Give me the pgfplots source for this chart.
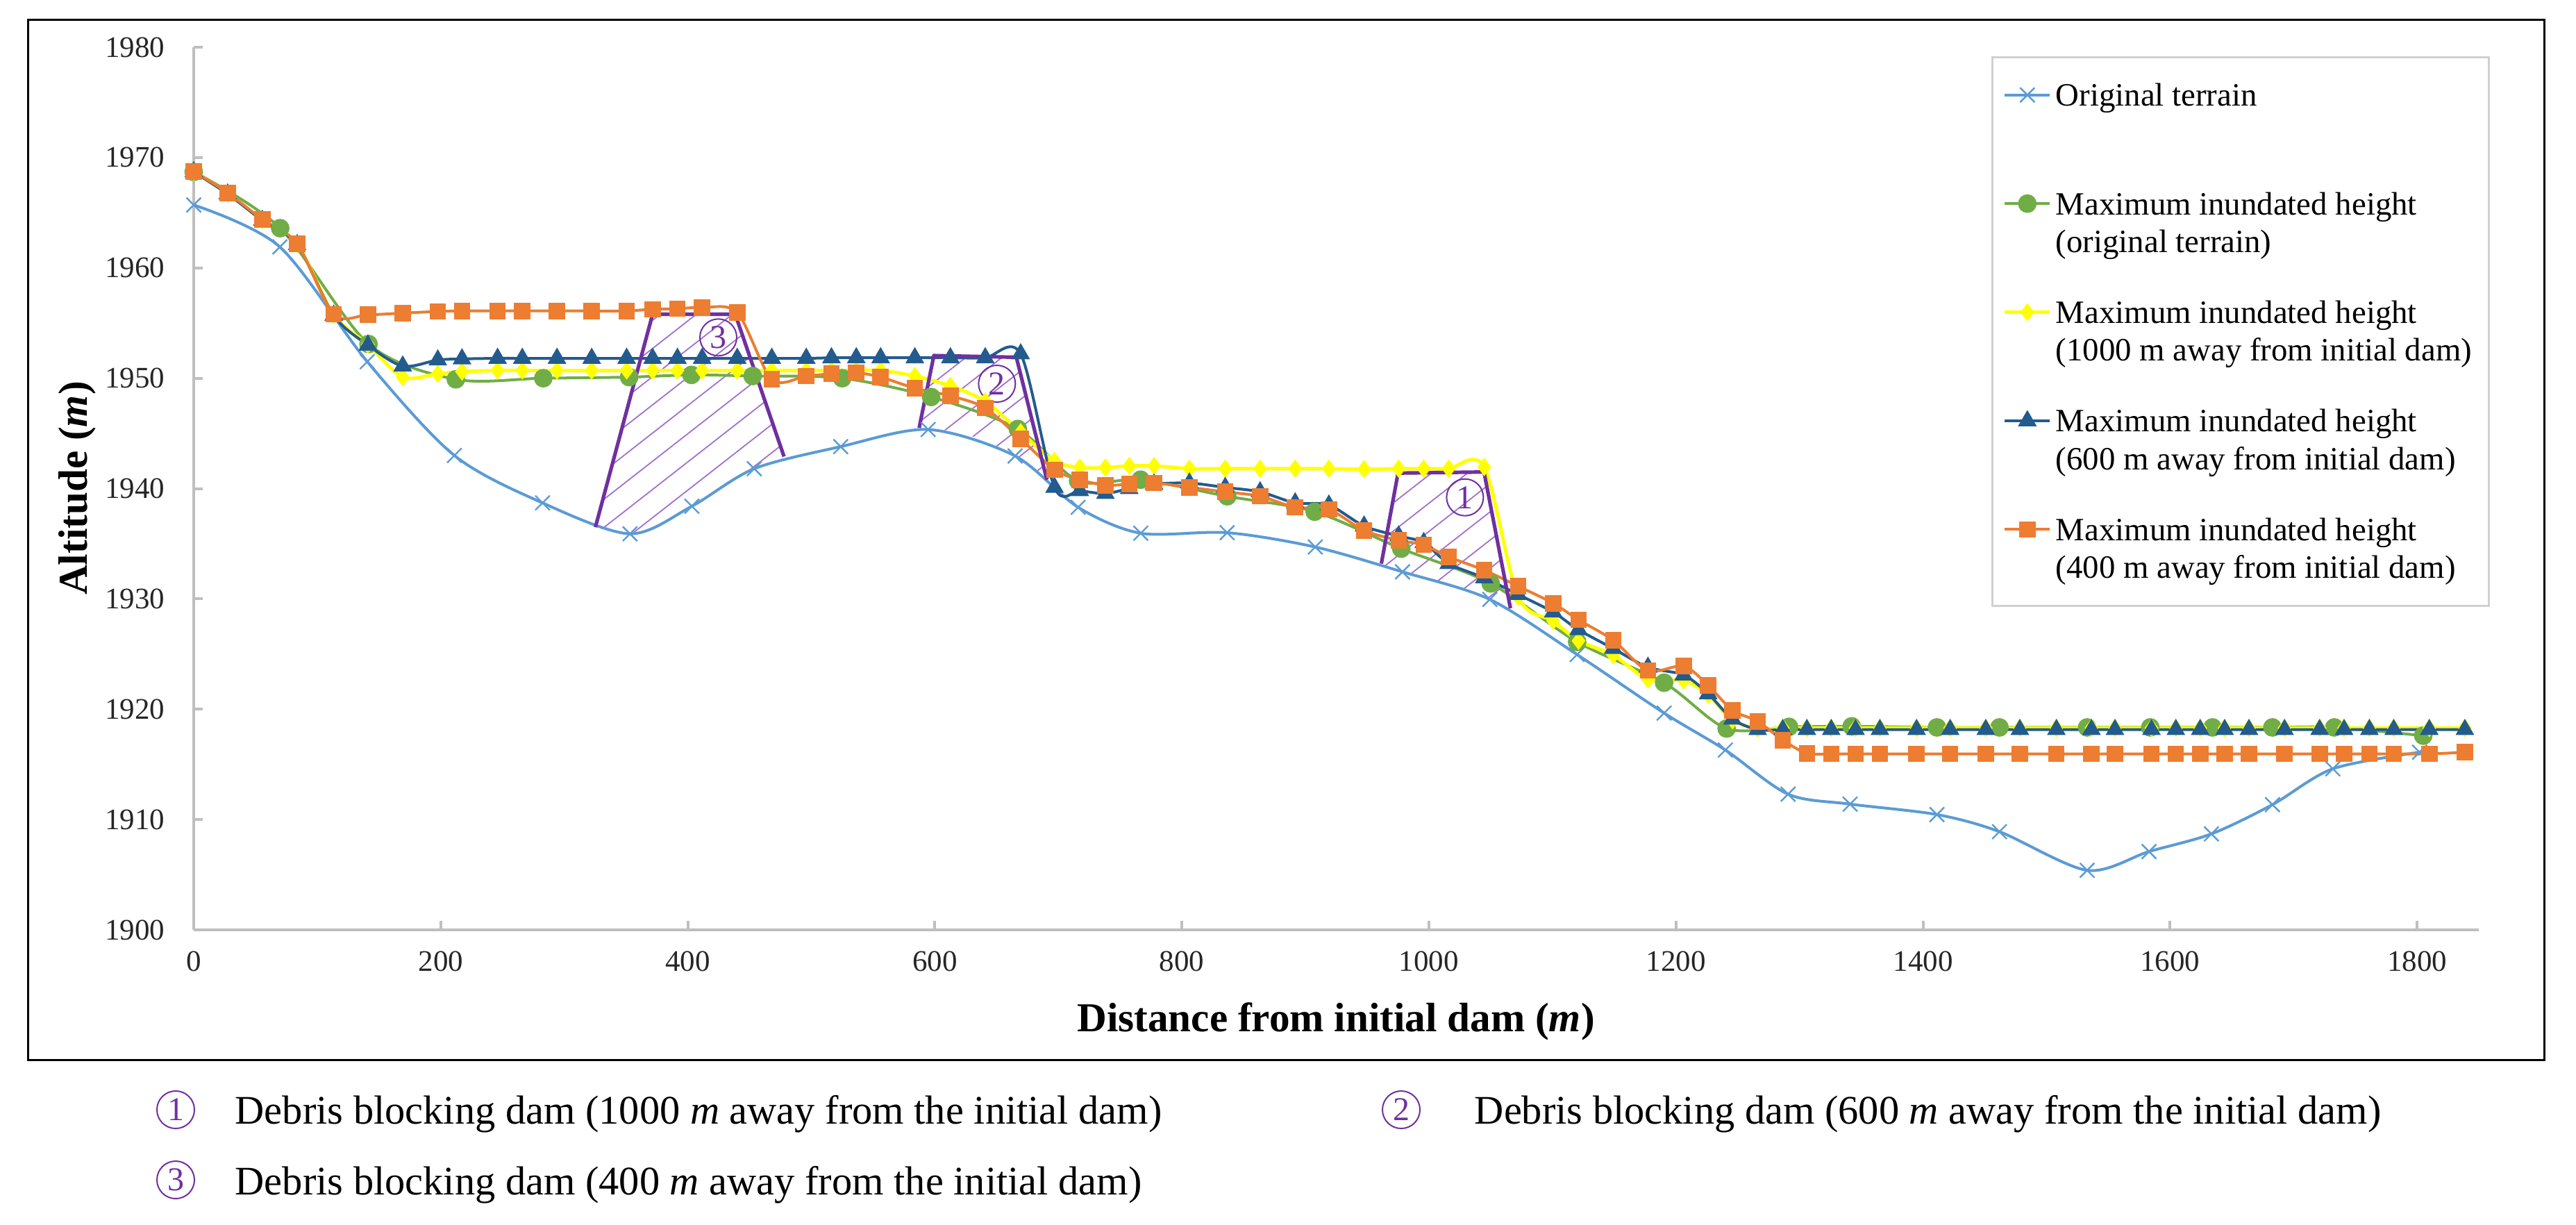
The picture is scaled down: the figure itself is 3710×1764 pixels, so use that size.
\documentclass[border=0pt]{standalone}
\usepackage{pgfplots}
\pgfplotsset{compat=1.18}
\usepackage{fontspec}
\setmainfont{Liberation Serif}
\usetikzlibrary{patterns.meta}

\definecolor{terrain}{HTML}{5B9BD5}
\definecolor{grn}{HTML}{70AD47}
\definecolor{ylw}{HTML}{FFFF00}
\definecolor{dblue}{HTML}{235B8E}
\definecolor{orng}{HTML}{ED7D31}
\definecolor{dampurple}{HTML}{7030A0}
\definecolor{hatchpurple}{HTML}{A070D0}
\definecolor{axisgray}{HTML}{BFBFBF}
\definecolor{legendgray}{HTML}{D0D0D0}

% two-line legend text, baseline on the first line
\newcommand\twoline[2]{\vtop{\hbox{#1}\hbox{#2}}}

\begin{document}
\begin{tikzpicture}
% 1 px of the reference = 0.25pt
\begin{scope}[x=0.25pt,y=-0.25pt]
\useasboundingbox (0,0) rectangle (3710,1764);
\draw[line width=0.75pt] (40,29) rectangle (3664,1526);
\draw[legendgray, line width=0.75pt] (2869,83) rectangle (3584,872);
\end{scope}

\begin{axis}[
  at={(69.75pt,-334.75pt)}, anchor=south west,
  scale only axis, width=822.75pt, height=317.75pt,
  xmin=0, xmax=1850, ymin=1900, ymax=1980,
  axis x line=bottom, axis y line=left,
  axis line style={-, draw=axisgray, line width=1pt},
  tick style={draw=axisgray, line width=1pt},
  tick align=inside, major tick length=3.3pt,
  xtick={0,200,...,1800}, ytick={1900,1910,...,1980},
  /pgf/number format/assume math mode=true,
  /pgf/number format/set thousands separator={},
  ticklabel style={font=\fontsize{10.75}{12}\selectfont, text=black!85},
  xticklabel style={yshift=-4.2pt},
  yticklabel style={xshift=-6.9pt},
  legend style={draw=none, fill=none, at={(rel axis cs:0.79155,0.95909)},
    anchor=north west, inner sep=0pt, row sep=0pt, column sep=1.5pt,
    font=\fontsize{11.7}{13.6}\selectfont, cells={anchor=base west},
    nodes={inner sep=0pt, anchor=base west, text height=8pt, text depth=31.1pt}},
  legend image code/.code={\draw[mark repeat=2,mark phase=2,#1] plot coordinates {(0pt,4pt) (8.125pt,4pt) (16.25pt,4pt)};},
  clip=false,
]

% hatched dam bodies
\addplot[draw=none, forget plot, pattern={Lines[angle=38,distance=8pt,line width=0.45pt]}, pattern color=hatchpurple]
  coordinates {(325.2,1936.5) (371.5,1955.8) (438.4,1955.8) (477.9,1942.9) (453.8,1941.8) (428,1940.1) (403.3,1938.4) (378,1936.4) (353.2,1935.9) (338,1936.1)} -- cycle;
\addplot[draw=none, forget plot, pattern={Lines[angle=38,distance=8pt,line width=0.45pt]}, pattern color=hatchpurple]
  coordinates {(587.3,1945.5) (599.2,1952.05) (666,1951.9) (690.7,1940.8) (680,1941.7) (665,1942.95) (640,1944.4) (615,1945.25) (594.6,1945.35)} -- cycle;
\addplot[draw=none, forget plot, pattern={Lines[angle=38,distance=8pt,line width=0.45pt]}, pattern color=hatchpurple]
  coordinates {(961.5,1933.2) (975,1941.4) (1044.6,1941.5) (1066,1929.15) (1049.3,1929.95) (1015,1931.3) (978.6,1932.45)} -- cycle;

% Original terrain
\addplot[smooth, color=terrain, line width=1pt, mark=x, mark size=3.7pt, mark options={line width=0.6pt}] coordinates {
(0,1965.7) (69.7,1961.9) (140.5,1951.5) (211,1943.0) (282.4,1938.7) (353.2,1935.9) (403.3,1938.4) (453.8,1941.8) (523.8,1943.8) (594.6,1945.35) (665,1942.95) (716,1938.3) (766.7,1935.95) (836.6,1936.0) (908,1934.7) (978.6,1932.45) (1049.3,1929.95) (1120,1924.95) (1190.4,1919.65) (1240,1916.3) (1290.8,1912.3) (1341,1911.4) (1411.3,1910.45) (1461.9,1908.9) (1532.9,1905.4) (1583,1907.1) (1633.5,1908.7) (1682.9,1911.35) (1731.8,1914.6) (1802,1916.1)};
\addlegendentry{Original terrain}

% Maximum inundated height, original terrain
\addplot[smooth, color=grn, line width=1pt, mark=*, mark size=3.1pt, mark options={line width=0.5pt, fill=grn}] coordinates {
(0,1968.7) (70,1963.6) (141.5,1953.1) (212.2,1949.9) (283,1950.0) (352.5,1950.1) (403,1950.3) (452.5,1950.2) (525,1950.0) (597,1948.3) (667.2,1945.4) (716,1940.7) (766.6,1940.8) (836.7,1939.3) (907.5,1937.9) (977.6,1934.55) (1050,1931.4) (1120,1926.1) (1190.4,1922.4) (1241,1918.25) (1291.5,1918.4) (1342.3,1918.45) (1411.3,1918.35) (1461.9,1918.35) (1532.9,1918.35) (1584,1918.35) (1634.4,1918.35) (1682.9,1918.35) (1733,1918.35) (1805,1917.6)};
\addlegendentry{\twoline{Maximum inundated height}{(original terrain)}}

% 1000 m away
\addplot[smooth, color=ylw, line width=1.25pt, mark=diamond*, mark size=2.9pt, mark options={line width=0.5pt, fill=ylw}] coordinates {
(0,1968.7) (27.5,1966.75) (55.5,1964.35) (83.7,1962.15) (113.3,1955.75) (141,1953.05) (169.2,1950.1) (197.6,1950.4) (217.2,1950.6) (246,1950.7) (266,1950.7) (294.1,1950.7) (322.2,1950.7) (350.5,1950.7) (371.5,1950.7) (391.6,1950.7) (411.6,1950.7) (440,1950.7) (468,1950.7) (495.9,1950.7) (516.3,1950.7) (536.4,1950.7) (556.1,1950.7) (583.8,1950.2) (612.6,1949.3) (640.8,1947.9) (669.5,1945.1) (696.9,1942.5) (717.4,1941.9) (738.1,1941.9) (757.4,1942.05) (777.5,1942.05) (806.1,1941.8) (835.1,1941.8) (863.3,1941.8) (891.7,1941.8) (919,1941.8) (947.5,1941.75) (975.5,1941.8) (995.8,1941.8) (1016,1941.8) (1044.8,1941.95) (1072.2,1930.2) (1100.6,1928.0) (1121.1,1926.2) (1149.2,1924.9) (1177.3,1922.7) (1206.2,1922.6) (1226.1,1921.3) (1245.8,1919.0) (1266.2,1918.25) (1286.5,1918.3) (1306,1918.3) (1325.7,1918.3) (1345.4,1918.3) (1365.1,1918.3) (1394.8,1918.3) (1422,1918.3) (1450.8,1918.3) (1478.4,1918.3) (1508,1918.3) (1536.4,1918.3) (1555.4,1918.3) (1585,1918.3) (1604.7,1918.3) (1624.4,1918.3) (1644.2,1918.3) (1663.9,1918.3) (1692.7,1918.3) (1721.1,1918.3) (1740.9,1918.3) (1761.4,1918.3) (1781.1,1918.3) (1809.9,1918.3) (1838.7,1918.3)};
\addlegendentry{\twoline{Maximum inundated height}{(1000 m away from initial dam)}}

% 600 m away
\addplot[smooth, color=dblue, line width=1pt, mark=triangle*, mark size=3.4pt, mark options={line width=0.5pt, fill=dblue}] coordinates {
(0,1968.7) (27.5,1966.7) (55.5,1964.3) (83.7,1962.1) (113.3,1955.7) (141,1953.0) (169.2,1951.1) (197.6,1951.65) (217.2,1951.75) (246,1951.8) (266,1951.8) (294.1,1951.8) (322.2,1951.8) (350.5,1951.8) (371.5,1951.8) (391.6,1951.8) (411.6,1951.8) (440,1951.8) (468,1951.8) (495.9,1951.8) (516.3,1951.85) (536.4,1951.85) (556.1,1951.85) (583.8,1951.85) (612.6,1951.85) (640.8,1951.85) (669.5,1952.2) (696.9,1940.1) (717.4,1939.8) (738.1,1939.55) (757.4,1940.0) (777.5,1940.4) (806.1,1940.5) (835.1,1940.1) (863.3,1939.7) (891.7,1938.7) (919,1938.5) (947.5,1936.6) (975.5,1935.7) (995.8,1935.1) (1016,1933.2) (1044.8,1931.9) (1072.2,1930.4) (1100.6,1928.8) (1121.1,1927.2) (1149.2,1925.5) (1177.3,1923.8) (1206.2,1923.1) (1226.1,1921.4) (1245.8,1919.1) (1266.2,1918.15) (1286.5,1918.15) (1306,1918.15) (1325.7,1918.15) (1345.4,1918.15) (1365.1,1918.15) (1394.8,1918.15) (1422,1918.15) (1450.8,1918.15) (1478.4,1918.15) (1508,1918.15) (1536.4,1918.15) (1555.4,1918.15) (1585,1918.15) (1604.7,1918.15) (1624.4,1918.15) (1644.2,1918.15) (1663.9,1918.15) (1692.7,1918.15) (1721.1,1918.15) (1740.9,1918.15) (1761.4,1918.15) (1781.1,1918.15) (1809.9,1918.15) (1838.7,1918.15)};
\addlegendentry{\twoline{Maximum inundated height}{(600 m away from initial dam)}}

% 400 m away
\addplot[smooth, color=orng, line width=1pt, mark=square*, mark size=2.7pt, mark options={line width=0.5pt, fill=orng}] coordinates {
(0,1968.75) (27.5,1966.8) (55.5,1964.4) (83.7,1962.2) (113.3,1955.8) (141,1955.75) (169.2,1955.9) (197.6,1956.05) (217.2,1956.1) (246,1956.1) (266,1956.1) (294.1,1956.1) (322.2,1956.1) (350.5,1956.1) (371.5,1956.25) (391.6,1956.3) (411.6,1956.4) (440,1955.95) (468,1949.9) (495.9,1950.2) (516.3,1950.4) (536.4,1950.5) (556.1,1950.1) (583.8,1949.1) (612.6,1948.4) (640.8,1947.3) (669.5,1944.5) (696.9,1941.7) (717.4,1940.8) (738.1,1940.3) (757.4,1940.4) (777.5,1940.5) (806.1,1940.1) (835.1,1939.7) (863.3,1939.3) (891.7,1938.3) (919,1938.1) (947.5,1936.2) (975.5,1935.3) (995.8,1934.9) (1016,1933.8) (1044.8,1932.6) (1072.2,1931.15) (1100.6,1929.6) (1121.1,1928.1) (1149.2,1926.25) (1177.3,1923.5) (1206.2,1923.9) (1226.1,1922.15) (1245.8,1919.9) (1266.2,1918.9) (1286.5,1917.2) (1306,1916.0) (1325.7,1915.95) (1345.4,1915.95) (1365.1,1915.95) (1394.8,1915.95) (1422,1915.95) (1450.8,1915.95) (1478.4,1915.95) (1508,1915.95) (1536.4,1915.95) (1555.4,1915.95) (1585,1915.95) (1604.7,1915.95) (1624.4,1915.95) (1644.2,1915.95) (1663.9,1915.95) (1692.7,1915.95) (1721.1,1915.95) (1740.9,1915.95) (1761.4,1915.95) (1781.1,1915.95) (1809.9,1915.95) (1838.7,1916.1)};
\addlegendentry{\twoline{Maximum inundated height}{(400 m away from initial dam)}}

% dam outlines
\addplot[forget plot, draw=dampurple, line width=1.3pt, line join=round] coordinates {(325.2,1936.5) (371.5,1955.8) (438.4,1955.8) (477.9,1942.9)};
\addplot[forget plot, draw=dampurple, line width=1.3pt, line join=round] coordinates {(587.3,1945.5) (599.2,1952.05) (666,1951.9) (690.7,1940.8)};
\addplot[forget plot, draw=dampurple, line width=1.3pt, line join=round] coordinates {(961.5,1933.2) (975,1941.4) (1044.6,1941.5) (1066,1929.15)};

\begin{scope}[every node/.style={circle, draw=dampurple, text=dampurple, line width=0.5pt, minimum size=13.25pt, inner sep=0pt, font=\fontsize{12}{12}\selectfont}]
\node at (axis cs:424.7,1953.7) {3};
\node at (axis cs:650.3,1949.5) {2};
\node at (axis cs:1029.2,1939.2) {1};
\end{scope}
\end{axis}

\begin{scope}[x=0.25pt,y=-0.25pt]
\node[anchor=base, inner sep=0pt, font=\fontsize{14.8}{16}\selectfont\bfseries] at (1924,1485) {Distance from initial dam (\textit{m})};
\node[rotate=90, anchor=base, inner sep=0pt, font=\fontsize{14.8}{16}\selectfont\bfseries] at (125,703) {Altitude (\textit{m})};
\begin{scope}[every node/.style={circle, draw=dampurple, text=dampurple, line width=0.5pt, minimum size=13.5pt, inner sep=0pt, font=\fontsize{12}{12}\selectfont}]
\node at (253,1598) {1};
\node at (2018,1598) {2};
\node at (253,1699) {3};
\end{scope}
\begin{scope}[every node/.style={anchor=base west, inner sep=0pt, font=\fontsize{14.6}{16}\selectfont}]
\node at (338,1618) {Debris blocking dam (1000 \textit{m} away from the initial dam)};
\node at (2123,1618) {Debris blocking dam (600 \textit{m} away from the initial dam)};
\node at (338,1720) {Debris blocking dam (400 \textit{m} away from the initial dam)};
\end{scope}
\end{scope}
\end{tikzpicture}
\end{document}
